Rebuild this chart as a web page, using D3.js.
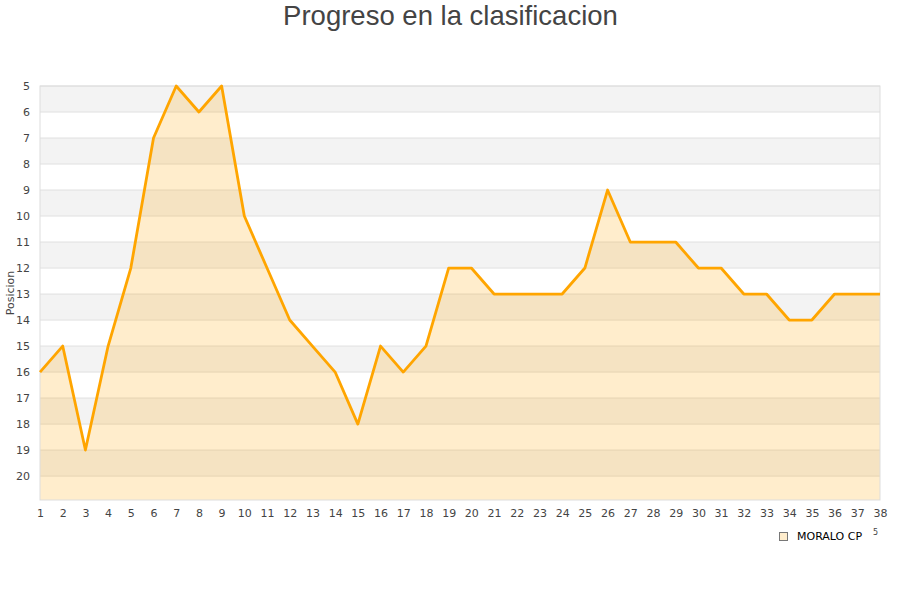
<!DOCTYPE html>
<html>
<head>
<meta charset="utf-8">
<script src="https://cdn.jsdelivr.net/npm/d3@7"></script>
<style>
  body { margin: 0; background: #fff; }
  svg { display: block; }
  .tick text { font-family: "DejaVu Sans", sans-serif; font-size: 11px; fill: #444; }
</style>
</head>
<body>
<div id="chart"></div>
<script>
// jornadas y posicion en la tabla
const jornadas = [...Array(38).keys()].map(x => x + 1);
const posiciones = [16, 15, 19, 15, 12, 7, 5, 6, 5, 10,
                    12, 14, 15, 16, 18, 15, 16, 15, 12, 12,
                    13, 13, 13, 13, 12, 9, 11, 11, 11, 12,
                    12, 13, 13, 14, 14, 13, 13, 13];
const yTicks = [5, 6, 7, 8, 9, 10, 11, 12, 13, 14, 15, 16, 17, 18, 19, 20];
const equipo = 'MORALO CP';

const width = 900, height = 600;
const margin = { top: 86, right: 20, bottom: 100, left: 40 };

const svg = d3.select('#chart').append('svg')
    .attr('width', width)
    .attr('height', height);

const x = d3.scaleLinear()
    .domain([1, 38])
    .range([margin.left, width - margin.right]);

const y = d3.scaleLinear()
    .domain([5, 20.92])
    .range([margin.top, height - margin.bottom]);

const bottom = y(20.92);

// bandas alternas
svg.selectAll('rect.band')
    .data(yTicks)
    .enter()
    .append('rect')
        .attr('class', 'band')
        .attr('x', x(1))
        .attr('y', d => y(d))
        .attr('width', x(38) - x(1))
        .attr('height', d => Math.min(y(d + 1), bottom) - y(d))
        .attr('fill', (d, i) => i % 2 === 0 ? '#f3f3f3' : '#ffffff');

// lineas de cuadricula
svg.selectAll('line.grid')
    .data(yTicks)
    .enter()
    .append('line')
        .attr('x1', x(1))
        .attr('x2', x(38))
        .attr('y1', d => y(d))
        .attr('y2', d => y(d))
        .attr('stroke', '#e0e0e0')
        .attr('stroke-width', 1);

const data = jornadas.map((j, i) => ({ j: j, p: posiciones[i] }));

svg.append('path')
    .datum(data)
    .attr('fill', 'rgba(255,165,0,0.2)')
    .attr('d', d3.area().x(d => x(d.j)).y0(bottom).y1(d => y(d.p)));

// borde
svg.append('rect')
    .attr('x', x(1))
    .attr('y', y(5))
    .attr('width', x(38) - x(1))
    .attr('height', bottom - y(5))
    .attr('fill', 'none')
    .attr('stroke', '#dddddd');

svg.append('path')
    .datum(data)
    .attr('fill', 'none')
    .attr('stroke', '#ffa500')
    .attr('stroke-width', 2.8)
    .attr('stroke-linejoin', 'round')
    .attr('d', d3.line().x(d => x(d.j)).y(d => y(d.p)));

// ejes
const gy = svg.append('g')
    .attr('transform', `translate(${margin.left},0)`)
    .call(d3.axisLeft(y).tickValues(yTicks).tickSize(0).tickPadding(10));
gy.select('.domain').remove();

const gx = svg.append('g')
    .attr('transform', `translate(0,${bottom})`)
    .call(d3.axisBottom(x).tickValues(jornadas).tickSize(0).tickPadding(9));
gx.select('.domain').remove();

svg.append('text')
    .attr('transform', `translate(14,${(y(5) + bottom) / 2}) rotate(-90)`)
    .attr('text-anchor', 'middle')
    .attr('font-family', 'DejaVu Sans, sans-serif')
    .attr('font-size', 11)
    .attr('fill', '#444')
    .text('Posicion');

svg.append('text')
    .attr('x', width / 2 + 0.5)
    .attr('y', 25)
    .attr('text-anchor', 'middle')
    .attr('font-family', 'Liberation Sans, Arial, sans-serif')
    .attr('font-size', 27.5)
    .attr('fill', '#444')
    .text('Progreso en la clasificacion');

// leyenda
svg.append('rect')
    .attr('x', 779.5)
    .attr('y', 532.5)
    .attr('width', 8)
    .attr('height', 8)
    .attr('fill', 'rgba(255,165,0,0.2)')
    .attr('stroke', '#777');

svg.append('text')
    .attr('x', 797)
    .attr('y', 540)
    .attr('font-family', 'DejaVu Sans, sans-serif')
    .attr('font-size', 11)
    .attr('fill', '#000')
    .text(equipo);

svg.append('text')
    .attr('x', 873)
    .attr('y', 535)
    .attr('font-family', 'DejaVu Sans, sans-serif')
    .attr('font-size', 8)
    .attr('fill', '#444')
    .text('5');
</script>
</body>
</html>
